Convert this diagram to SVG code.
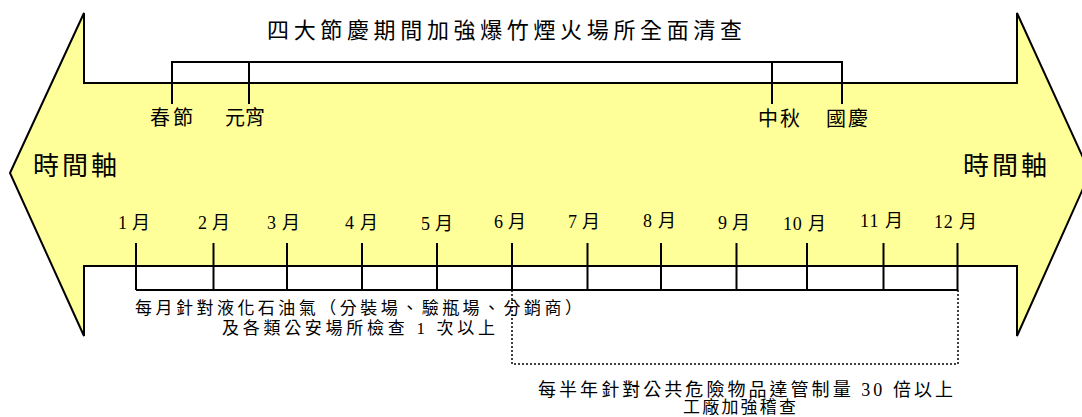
<svg xmlns="http://www.w3.org/2000/svg" width="1082" height="417" viewBox="0 0 1082 417">
  <style>
    .t { font-family: "Liberation Serif", "Noto Sans CJK TC", serif; fill: #000; }
    .ln { stroke: #000; stroke-width: 2; fill: none; }
    .dot { stroke: #000; stroke-width: 1.5; fill: none; stroke-dasharray: 2 2; }
  </style>
  <rect width="1082" height="417" fill="#fff"/>
  <g id="timeline-arrow">
    <path d="M10,173 L84,13 L84,83 L1017,83 L1017,13 L1090,173 L1017,336 L1017,266 L84,266 L84,336 Z" fill="#FFFF99" stroke="#000" stroke-width="2" stroke-linejoin="miter"/>
  </g>
  <g id="title">
    <text class="t" x="267" y="37.5" font-size="22" textLength="475" lengthAdjust="spacing">四大節慶期間加強爆竹煙火場所全面清查</text>
  </g>
  <g id="connectors">
    <path class="ln" d="M172,104 V62 H842 V104 M249,62 V104 M772,62 V104"/>
    <path class="ln" d="M136,290 H958 M136,243 V290 M213.5,243 V290 M287,243 V290 M362,243 V290 M437,243 V290 M512,243 V290 M587.5,243 V290 M661,243 V290 M736.5,243 V290 M807,243 V290 M883.5,243 V290 M957.5,243 V290"/>
    <path class="dot" d="M512,290 V364 H958 V290"/>
  </g>
  <g id="holidays">
    <text class="t" x="150" y="125" font-size="20" textLength="43" lengthAdjust="spacing">春節</text>
    <text class="t" x="225" y="125" font-size="20" textLength="40" lengthAdjust="spacing">元宵</text>
    <text class="t" x="758" y="126" font-size="20" textLength="42" lengthAdjust="spacing">中秋</text>
    <text class="t" x="826" y="126" font-size="20" textLength="42" lengthAdjust="spacing">國慶</text>
  </g>
  <g id="axis-labels">
    <text class="t" x="33" y="175" font-size="26" textLength="84" lengthAdjust="spacing">時間軸</text>
    <text class="t" x="963" y="175" font-size="26" textLength="84" lengthAdjust="spacing">時間軸</text>
  </g>
  <g id="months">
    <text class="t" x="118" y="228.5" font-size="18" textLength="32" lengthAdjust="spacing">1 月</text>
    <text class="t" x="198" y="229" font-size="18" textLength="32" lengthAdjust="spacing">2 月</text>
    <text class="t" x="267" y="229" font-size="18" textLength="33" lengthAdjust="spacing">3 月</text>
    <text class="t" x="345" y="229" font-size="18" textLength="33" lengthAdjust="spacing">4 月</text>
    <text class="t" x="421" y="229.5" font-size="18" textLength="32" lengthAdjust="spacing">5 月</text>
    <text class="t" x="494" y="228" font-size="18" textLength="32" lengthAdjust="spacing">6 月</text>
    <text class="t" x="568" y="228" font-size="18" textLength="32" lengthAdjust="spacing">7 月</text>
    <text class="t" x="643" y="227" font-size="18" textLength="33" lengthAdjust="spacing">8 月</text>
    <text class="t" x="718" y="229" font-size="18" textLength="32" lengthAdjust="spacing">9 月</text>
    <text class="t" x="783" y="229.5" font-size="18" textLength="43" lengthAdjust="spacing">10 月</text>
    <text class="t" x="860" y="227" font-size="18" textLength="43" lengthAdjust="spacing">11 月</text>
    <text class="t" x="934" y="227.5" font-size="18" textLength="43" lengthAdjust="spacing">12 月</text>
  </g>
  <g id="monthly-check">
    <text class="t" x="135" y="313.5" font-size="17" textLength="447" lengthAdjust="spacing">每月針對液化石油氣（分裝場、驗瓶場、分銷商）</text>
    <text class="t" x="222" y="334" font-size="17" textLength="273" lengthAdjust="spacing">及各類公安場所檢查 1 次以上</text>
  </g>
  <g id="half-year-check">
    <text class="t" x="538" y="395.5" font-size="18" textLength="415" lengthAdjust="spacing">每半年針對公共危險物品達管制量 30 倍以上</text>
    <text class="t" x="683" y="412.5" font-size="17" textLength="113" lengthAdjust="spacing">工廠加強稽查</text>
  </g>
</svg>
